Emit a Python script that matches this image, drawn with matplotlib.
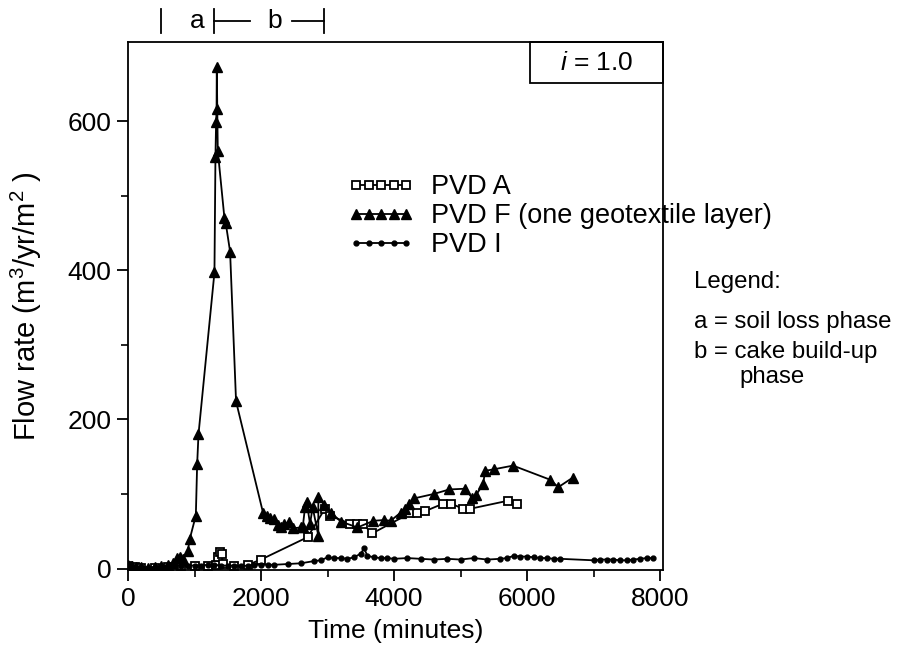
import matplotlib.pyplot as plt
import matplotlib.transforms as mtransforms
from matplotlib.patches import Rectangle

plt.rcParams['font.family'] = ['Liberation Sans', 'DejaVu Sans']
plt.rcParams['mathtext.fontset'] = 'custom'
plt.rcParams['mathtext.rm'] = 'Liberation Sans'
plt.rcParams['mathtext.it'] = 'Liberation Sans:italic'

# PVD A (open squares)
a_time = [0, 100, 200, 400, 600, 800, 1000, 1200, 1330, 1360, 1380, 1410, 1430, 1600,
          1800, 2000, 2700, 2960, 3040, 3340, 3440, 3530, 3670, 4240, 4340, 4470,
          4740, 4860, 5040, 5140, 5720, 5850]
a_flow = [3, 2, 1, 1, 2, 3, 3, 4, 5, 15, 22, 20, 6, 3,
          5, 12, 42, 80, 71, 60, 60, 60, 47, 74, 74, 77,
          87, 87, 80, 80, 91, 87]

# PVD F, one geotextile layer (filled triangles)
f_time = [0, 60, 120, 200, 300, 400, 500, 600, 680, 740, 780, 830, 900, 930, 1020,
          1040, 1060, 1300, 1315, 1325, 1332, 1335, 1350, 1450, 1470, 1535, 1625,
          2030, 2090, 2140, 2200, 2250, 2300, 2340, 2420, 2480, 2600, 2627, 2662,
          2687, 2737, 2777, 2862, 2862, 2950, 3050, 3200, 3450, 3690, 3850, 3950,
          4100, 4160, 4230, 4300, 4600, 4830, 5070, 5170, 5230, 5340, 5370, 5500,
          5790, 6350, 6470, 6690]
f_flow = [5, 3, 2, 2, 1, 2, 3, 5, 8, 14, 15, 13, 24, 40, 71,
          140, 180, 397, 552, 599, 616, 673, 560, 470, 463, 425, 224,
          75, 70, 68, 66, 58, 55, 60, 62, 54, 55, 55, 82,
          89, 60, 82, 44, 96, 85, 75, 63, 55, 64, 65, 64,
          75, 80, 86, 94, 100, 106, 107, 95, 98, 113, 131, 133,
          138, 119, 109, 122]

# PVD I (small dots)
i_time = [0, 100, 200, 300, 400, 500, 600, 700, 800, 900, 1000, 1100, 1200, 1300,
          1400, 1500, 1600, 1700, 1800, 1900, 2000, 2100, 2200, 2400, 2600, 2800,
          2900, 3000, 3100, 3200, 3300, 3400, 3500, 3550, 3600, 3700, 3800, 3900,
          4000, 4200, 4400, 4600, 4800, 5000, 5200, 5400, 5600, 5700, 5800, 5900,
          6000, 6100, 6200, 6300, 6400, 6500, 7000, 7100, 7200, 7300, 7400, 7500,
          7600, 7700, 7800, 7900]
i_flow = [3, 2, 2, 1, 2, 2, 3, 3, 4, 4, 4, 4, 5, 5,
          4, 4, 4, 3, 4, 5, 5, 5, 5, 6, 7, 10,
          11, 15, 14, 14, 13, 15, 20, 27, 17, 15, 14, 14,
          13, 14, 13, 12, 13, 12, 14, 12, 13, 14, 17, 16,
          16, 15, 14, 14, 13, 13, 11, 12, 12, 12, 11, 11,
          12, 13, 14, 14]

fig = plt.figure(figsize=(8.97, 6.51), dpi=100)
ax = fig.add_axes([128 / 897, 81 / 651, 535 / 897, 528 / 651])

ax.plot(a_time, a_flow, color='black', lw=1.3, marker='s', ms=6, mfc='white',
        mec='black', mew=1.3, label='PVD A')
ax.plot(f_time, f_flow, color='black', lw=1.3, marker='^', ms=7, mfc='black',
        mec='black', label='PVD F (one geotextile layer)')
ax.plot(i_time, i_flow, color='black', lw=1.3, marker='o', ms=3.5, mfc='black',
        mec='black', label='PVD I')

ax.set_xlim(0, 8045)
ax.set_ylim(-2, 706)
ax.set_xticks([0, 2000, 4000, 6000, 8000])
ax.set_xticks(range(1000, 8000, 2000), minor=True)
ax.set_yticks([0, 200, 400, 600])
ax.set_yticks([100, 300, 500], minor=True)
ax.tick_params(which='major', direction='out', length=8, width=1.3, labelsize=19, pad=4)
ax.tick_params(which='minor', direction='out', length=5, width=1.2)
for s in ax.spines.values():
    s.set_linewidth(1.3)

ax.set_xlabel('Time (minutes)', fontsize=19, labelpad=6)
ax.set_ylabel('Flow rate (m$^3$/yr/m$^2$ )', fontsize=21)
ax.yaxis.set_label_coords((44 - 128) / 535, 0.5)

ax.legend(loc='upper left', bbox_to_anchor=(348 / 897, 1 - 174 / 651),
          bbox_transform=fig.transFigure, frameon=False, numpoints=5,
          handlelength=2.45, handletextpad=0.6, labelspacing=0.12,
          borderpad=0, borderaxespad=0, prop={'size': 19.5})

# i = 1.0 box in the top right corner
ax.add_patch(Rectangle((0.751, 0.922), 0.249, 0.078, transform=ax.transAxes,
                       fill=False, lw=1.3, clip_on=False))
ax.text(0.876, 0.961, '$i$ = 1.0', transform=ax.transAxes, ha='center', va='center',
        fontsize=19)

# phase markers above the plot
trans = mtransforms.blended_transform_factory(ax.transData, ax.transAxes)
yb = 1.04
for xb in [496, 1293, 2947]:
    ax.plot([xb, xb], [yb - 0.023, yb + 0.023], color='black', lw=1.3,
            transform=trans, clip_on=False)
ax.plot([1293, 1835], [yb, yb], color='black', lw=1.3, transform=trans, clip_on=False)
ax.plot([2466, 2947], [yb, yb], color='black', lw=1.3, transform=trans, clip_on=False)
ax.text(1038, yb, 'a', transform=trans, ha='center', va='center', fontsize=19)
ax.text(2211, yb, 'b', transform=trans, ha='center', va='center', fontsize=19)

# explanatory text on the right
fig.text(694 / 897, 1 - 282 / 651, 'Legend:', ha='left', va='center', fontsize=17.3)
fig.text(694 / 897, 1 - 322 / 651, 'a = soil loss phase', ha='left', va='center', fontsize=17.3)
fig.text(694 / 897, 1 - 352 / 651, 'b = cake build-up', ha='left', va='center', fontsize=17.3)
fig.text(739 / 897, 1 - 377 / 651, 'phase', ha='left', va='center', fontsize=17.3)

fig.savefig('out.png', dpi=100)
